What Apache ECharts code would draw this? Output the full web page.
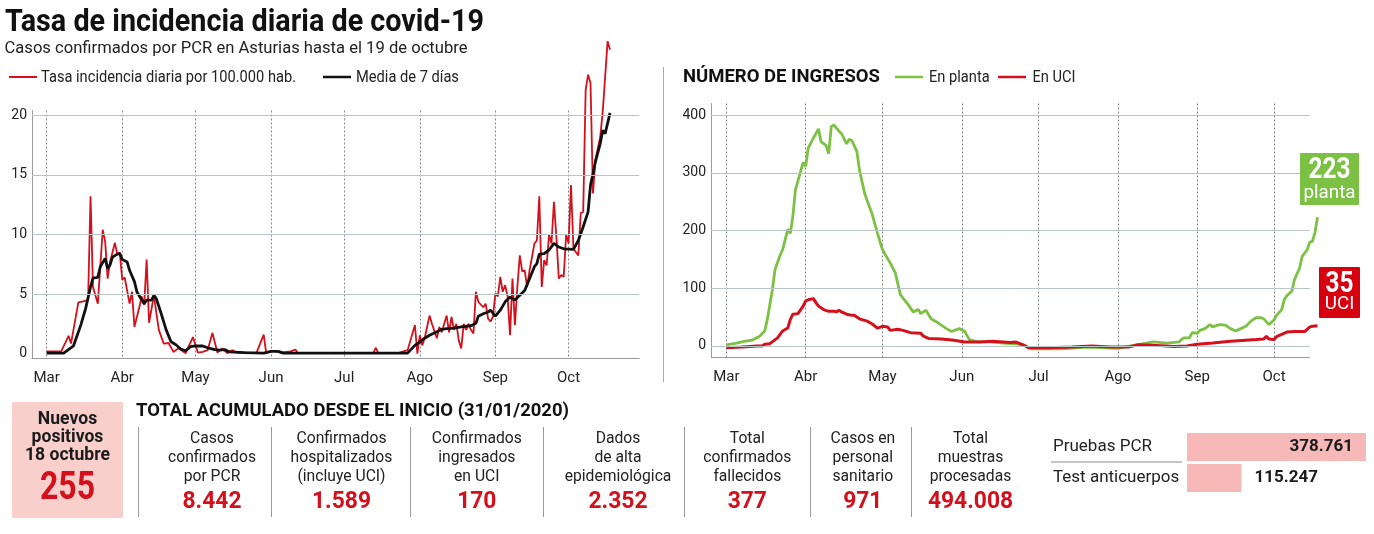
<!DOCTYPE html>
<html><head><meta charset="utf-8">
<script src="https://cdn.jsdelivr.net/npm/echarts@6/dist/echarts.min.js"></script>
<style>html,body{margin:0;padding:0;background:#fff}#c{width:1374px;height:534px}</style>
</head><body><div id="c"></div>
<script>
// ---------- DATA ----------
const monthNames = {3:'Mar',4:'Abr',5:'May',6:'Jun',7:'Jul',8:'Ago',9:'Sep',10:'Oct'};
const leftYTicks = [0,5,10,15,20];
const rightYTicks = [0,100,200,300,400];

// Tasa incidencia diaria por 100.000 hab. [día, valor]
const incidenciaDiaria = [
['3-1',0.2],['3-7',0.2],['3-10',1.5],['3-11',0.85],['3-14',4.3],['3-16',4.4],['3-18',4.5],['3-19',13.2],['3-20',5.6],['3-22',4.2],['3-24',10.4],['3-25',9.4],['3-26',6.3],['3-27',7.7],['3-29',9.3],['3-30',8.3],['3-31',8.5],
['4-1',6.2],['4-2',6.4],['4-4',4.2],['4-5',5.2],['4-6',2.25],['4-8',3.9],['4-9',4.8],['4-10',4.1],['4-11',7.9],['4-12',2.6],['4-14',4.9],['4-15',3.4],['4-16',2.0],['4-18',0.85],['4-20',0.9],['4-22',0.15],['4-24',0.45],['4-27',0.05],['4-30',1.4],
['5-2',0.1],['5-4',0.15],['5-6',0.3],['5-8',1.75],['5-10',0.1],['5-12',0.45],['5-14',0.05],['5-16',0.3],['5-18',0.1],['5-22',0.1],['5-26',0.05],['5-29',1.6],['5-30',0.1],
['6-2',0.25],['6-5',0.1],['6-9',0.2],['6-11',0.35],['6-12',0.05],['6-20',0.05],
['7-1',0.05],['7-13',0.1],['7-14',0.5],['7-15',0.05],['7-23',0.05],['7-27',0.3],['7-30',2.4],['7-31',0],
['8-1',1.55],['8-2',0.7],['8-3',1.3],['8-5',3.2],['8-6',2.5],['8-8',1.3],['8-9',2.25],['8-10',1.8],['8-12',3.2],['8-13',1.8],['8-14',3.1],['8-15',2.0],['8-16',2.5],['8-17',1.1],['8-18',0.45],['8-19',2.5],['8-20',2.0],['8-21',2.5],['8-22',2.0],['8-23',1.7],['8-24',5.2],['8-25',4.35],['8-27',3.9],['8-28',4.2],['8-29',2.95],['8-30',2.7],['8-31',3.1],
['9-1',5.05],['9-2',4.8],['9-3',6.45],['9-4',5.2],['9-5',5.75],['9-6',4.8],['9-7',1.55],['9-8',6.3],['9-9',2.4],['9-10',5.6],['9-11',8.25],['9-12',6.9],['9-13',7.0],['9-14',5.6],['9-15',7.0],['9-16',8.1],['9-17',9.25],['9-18',9.5],['9-19',13.2],['9-20',5.6],['9-21',7.85],['9-22',7.4],['9-23',10.0],['9-24',9.25],['9-25',12.75],['9-26',9.8],['9-27',6.3],['9-28',6.6],['9-29',6.45],['9-30',10.0],
['10-1',9.25],['10-2',14.15],['10-3',8.8],['10-5',8.25],['10-6',11.8],['10-7',11.9],['10-8',22.1],['10-9',23.4],['10-10',22.7],['10-11',13.45],['10-12',16.25],['10-14',18.2],['10-15',20.3],['10-17',26.2],['10-18',25.5]
];

// Media de 7 días
const media7 = [
['3-1',0.05],['3-8',0.05],['3-12',0.65],['3-15',2.4],['3-17',3.8],['3-19',5.6],['3-20',6.35],['3-22',6.4],['3-23',7.3],['3-25',8.0],['3-26',7.15],['3-27',7.45],['3-28',8.1],['3-30',8.35],['3-31',8.4],
['4-1',7.9],['4-3',7.7],['4-4',7.0],['4-6',6.05],['4-7',5.2],['4-9',4.5],['4-10',4.2],['4-11',4.5],['4-13',4.5],['4-14',4.9],['4-15',4.6],['4-17',3.35],['4-19',2.0],['4-21',1.0],['4-23',0.75],['4-25',0.4],['4-27',0.25],['4-29',0.6],
['5-1',0.65],['5-4',0.65],['5-6',0.5],['5-9',0.35],['5-11',0.3],['5-13',0.35],['5-15',0.15],['5-21',0.1],['5-29',0.05],
['6-1',0.2],['6-4',0.2],['6-6',0.05],['6-20',0.05],['7-10',0.05],['7-23',0.05],['7-27',0.05],['7-30',0.7],
['8-1',1.0],['8-3',1.3],['8-5',1.55],['8-8',1.85],['8-10',2.05],['8-12',2.1],['8-15',2.15],['8-18',2.25],['8-22',2.35],['8-24',2.55],['8-25',3.15],['8-27',3.35],['8-29',3.5],['8-30',3.65],
['9-1',3.15],['9-3',3.65],['9-5',4.35],['9-7',4.75],['9-9',4.5],['9-11',4.9],['9-13',5.3],['9-15',6.3],['9-17',7.3],['9-18',7.55],['9-19',8.35],['9-21',8.4],['9-23',8.7],['9-25',9.25],['9-27',8.95],['9-29',8.8],
['10-3',8.75],['10-5',9.5],['10-7',10.65],['10-9',11.9],['10-10',14.15],['10-11',15.1],['10-12',16.1],['10-14',17.65],['10-15',18.75],['10-16',18.45],['10-18',20.2]
];

// Número de ingresos: en planta
const enPlanta = [
['3-1',2],['3-5',5],['3-8',8],['3-11',10],['3-14',17],['3-16',26],['3-17',46],['3-19',98],['3-20',132],['3-22',157],['3-23',167],['3-25',202],['3-26',195],['3-27',225],['3-28',271],['3-30',302],['3-31',318],
['4-1',311],['4-2',343],['4-4',360],['4-6',376],['4-7',354],['4-9',347],['4-10',333],['4-11',380],['4-12',383],['4-14',372],['4-15',368],['4-17',350],['4-18',358],['4-19',356],['4-21',337],['4-22',305],['4-24',265],['4-25',252],['4-27',228],['4-29',196],
['5-1',167],['5-2',159],['5-4',144],['5-6',127],['5-8',89],['5-9',83],['5-11',72],['5-13',59],['5-15',63],['5-16',56],['5-18',62],['5-20',47],['5-22',42],['5-24',36],['5-26',30],['5-28',25],['5-31',30],
['6-2',26],['6-4',11],['6-7',7],['6-12',7],['6-17',5],['6-23',3],['6-26',0],['6-28',-5],['7-10',-5],['7-20',-2],['8-1',-4],['8-6',0],
['8-10',3],['8-15',7],['8-20',5],['8-25',7],['8-26',12],['8-27',14],['8-29',14],['8-30',23],
['9-1',22],['9-2',27],['9-4',30],['9-6',37],['9-7',33],['9-9',36],['9-10',37],['9-12',36],['9-14',30],['9-16',26],['9-18',30],['9-20',34],['9-22',43],['9-24',49],['9-26',49],['9-27',47],['9-29',37],
['10-1',45],['10-2',53],['10-4',63],['10-5',80],['10-6',87],['10-8',95],['10-9',115],['10-11',135],['10-12',155],['10-14',167],['10-15',180],['10-16',181],['10-17',196],['10-18',223]
];

// Número de ingresos: en UCI
const enUCI = [
['3-1',-3],['3-7',-2],['3-13',0],['3-15',0],['3-16',3],['3-18',4],['3-21',14],['3-23',26],['3-25',31],['3-26',46],['3-27',55],['3-29',56],['3-31',69],
['4-1',78],['4-2',80],['4-4',82],['4-5',75],['4-6',69],['4-8',63],['4-10',60],['4-12',60],['4-13',59],['4-14',62],['4-15',59],['4-17',55],['4-19',53],['4-20',53],['4-22',47],['4-25',43],['4-27',38],['4-29',31],
['5-1',34],['5-3',33],['5-4',27],['5-7',29],['5-9',27],['5-12',23],['5-16',22],['5-17',17],['5-19',13],['5-24',12],['5-29',10],
['6-2',7],['6-8',7],['6-13',8],['6-20',6],['6-22',7],['6-25',2],['6-27',-3],['7-5',-3],['7-14',-2],['7-22',0],['7-29',-2],['8-5',-2],['8-9',2],['8-16',1],['8-23',-1],['8-28',0],
['9-1',3],['9-7',5],['9-14',8],['9-20',10],['9-24',11],['9-27',12],['9-28',17],['9-29',12],
['10-1',11],['10-2',16],['10-4',20],['10-6',24],['10-9',25],['10-13',25],['10-15',33],['10-16',34],['10-18',35]
];

const ultimoPlanta = 223;
const ultimoUCI = 35;
const nuevosPositivos = 255;
const totalLabels = [
  ['Casos','confirmados','por PCR'],
  ['Confirmados','hospitalizados','(incluye UCI)'],
  ['Confirmados','ingresados','en UCI'],
  ['Dados','de alta','epidemiológica'],
  ['Total','confirmados','fallecidos'],
  ['Casos en','personal','sanitario'],
  ['Total','muestras','procesadas']
];
const totalValues = [8442, 1589, 170, 2352, 377, 971, 494008];
const pruebasCats = ['Pruebas PCR', 'Test anticuerpos'];
const pruebasValues = [378761, 115247];

// ---------- HELPERS ----------
function dayCats(m0, d0, m1, d1) {
  const out = []; let t = Date.UTC(2020, m0 - 1, d0); const end = Date.UTC(2020, m1 - 1, d1);
  while (t <= end) { const dt = new Date(t); out.push((dt.getUTCMonth() + 1) + '-' + dt.getUTCDate()); t += 86400000; }
  return out;
}
const catsL = dayCats(2, 24, 10, 30);
const catsR = dayCats(2, 24, 10, 18);
const isMonthStart = (i, v) => String(v).split('-')[1] === '1';
const monthLabel = v => monthNames[+String(v).split('-')[0]] || '';
const fmt = v => String(v).replace(/\B(?=(\d{3})+(?!\d))/g, '.');
const FF = 'Roboto';
const mctx = document.createElement('canvas').getContext('2d');
function tw(s, size, weight) { mctx.font = (weight || 'normal') + ' ' + size + 'px ' + FF; return mctx.measureText(s).width; }
function fit(s, size, weight, target) { return target / tw(s, size, weight); }
function txt(s, x, y, o) {
  return { type: 'text', x: x, y: y, scaleX: o.sx || 1, silent: true, z: 10,
    style: { text: s, x: 0, y: 0, textAlign: o.align || 'left', textVerticalAlign: 'middle',
      fontSize: o.size, fontWeight: o.weight || 'normal', fontFamily: FF, fill: o.color || '#222' } };
}
function ln(x1, y1, x2, y2, color, w) { return { type: 'line', silent: true, z: 10, shape: { x1, y1, x2, y2 }, style: { stroke: color, lineWidth: w || 1 } }; }
function rect(x, y, w, h, color) { return { type: 'rect', silent: true, z: 9, shape: { x, y, width: w, height: h, r: 1 }, style: { fill: color } }; }

const RED = '#d3101b', GREEN = '#7cc143', GRID = '#b9c4c7', AXIS = '#9b9b9b', DASH = '#858585';

// ---------- GRAPHIC ----------
const g = [];
const title = 'Tasa de incidencia diaria de covid-19';
g.push(txt(title, 5, 23, { size: 31, weight: 'bold', color: '#111', sx: fit(title, 31, 'bold', 479) }));
const sub = 'Casos confirmados por PCR en Asturias hasta el 19 de octubre';
g.push(txt(sub, 4.5, 49, { size: 17, color: '#222', sx: fit(sub, 17, 'normal', 463) }));
const lg1 = 'Tasa incidencia diaria por 100.000 hab.', lg2 = 'Media de 7 días';
const lgS = fit(lg1, 16, 'normal', 255);
g.push(ln(9, 77, 37, 77, RED, 2));
g.push(txt(lg1, 41, 77.5, { size: 16, sx: lgS }));
g.push(ln(323, 77, 351, 77, '#111', 2.5));
g.push(txt(lg2, 356, 77.5, { size: 16, sx: lgS }));
// right header
const hdr = 'NÚMERO DE INGRESOS';
g.push(txt(hdr, 683, 77.5, { size: 18, weight: 'bold', color: '#111', sx: fit(hdr, 18, 'bold', 197) }));
g.push(ln(895, 77, 923, 77, GREEN, 2.5));
g.push(txt('En planta', 929, 77.5, { size: 16, sx: lgS }));
g.push(ln(998, 77, 1026, 77, RED, 2.5));
g.push(txt('En UCI', 1032.5, 77.5, { size: 16, sx: lgS }));
// divider
g.push(ln(663.5, 67, 663.5, 382, '#aaaaaa', 1));
// end boxes
const numS = fit(String(ultimoPlanta), 30, 'bold', 42);
const wS = fit('planta', 18, 'normal', 52);
g.push(rect(1300, 153, 59, 52, GREEN));
g.push(txt(String(ultimoPlanta), 1329.5, 170, { size: 30, weight: 'bold', color: '#fff', align: 'center', sx: numS }));
g.push(txt('planta', 1329.5, 193, { size: 18, color: '#fff', align: 'center', sx: wS }));
g.push(rect(1319, 267, 41, 51, '#d7000f'));
g.push(txt(String(ultimoUCI), 1339.5, 284, { size: 30, weight: 'bold', color: '#fff', align: 'center', sx: numS }));
g.push(txt('UCI', 1339.5, 304.5, { size: 18, color: '#fff', align: 'center', sx: wS }));
// bottom left box
g.push(rect(12, 402, 111, 116, '#f8cfcb'));
const nvS = fit('18 octubre', 18, 'bold', 85);
g.push(txt('Nuevos', 67.5, 419.5, { size: 18, weight: 'bold', color: '#1a1a1a', align: 'center', sx: nvS }));
g.push(txt('positivos', 67.5, 437.5, { size: 18, weight: 'bold', color: '#1a1a1a', align: 'center', sx: nvS }));
g.push(txt('18 octubre', 67.5, 455.5, { size: 18, weight: 'bold', color: '#1a1a1a', align: 'center', sx: nvS }));
g.push(txt(String(nuevosPositivos), 67.5, 489.5, { size: 38, weight: 'bold', color: RED, align: 'center', sx: fit(String(nuevosPositivos), 38, 'bold', 55) }));
const th = 'TOTAL ACUMULADO DESDE EL INICIO (31/01/2020)';
g.push(txt(th, 136, 411.5, { size: 18, weight: 'bold', color: '#111', sx: fit(th, 18, 'bold', 433) }));
const seps = [138.5, 271.5, 410.5, 543.5, 684.5, 810.5, 911.5];
seps.forEach(x => g.push(ln(x, 427, x, 517, '#9a9a9a', 1)));
const colC = [212, 341.5, 476.8, 618, 747.3, 862.8, 970.5];
const labS = fit('confirmados', 17, 'normal', 88);
const valS = fit('8.442', 24, 'bold', 59);
const rowY = [438.8, 457.5, 476.5];
totalLabels.forEach((lines, i) => {
  lines.forEach((s, j) => g.push(txt(s, colC[i], rowY[j], { size: 17, color: '#222', align: 'center', sx: labS })));
  g.push(txt(fmt(totalValues[i]), colC[i], 502, { size: 24, weight: 'bold', color: RED, align: 'center', sx: valS }));
});
g.push(ln(1051, 462, 1182, 462, '#8a8a8a', 1));

// ---------- CHART ----------
const chart = echarts.init(document.getElementById('c'), null, { renderer: 'canvas' });
const xAxisCommon = (cats, gi, showLine) => ({
  type: 'category', gridIndex: gi, data: cats, boundaryGap: false,
  axisLine: { show: showLine, onZero: false, lineStyle: { color: AXIS, width: 1 } },
  axisTick: { show: false },
  axisLabel: { interval: isMonthStart, formatter: monthLabel, fontSize: 15, color: '#222', fontFamily: FF, margin: 12 },
  splitLine: { show: true, interval: isMonthStart, lineStyle: { color: DASH, type: [2, 2], width: 1 } }
});
const idxEndR = catsR.indexOf('10-15');

chart.setOption({
  animation: false,
  textStyle: { fontFamily: FF },
  graphic: { elements: g },
  grid: [
    { left: 32, top: 110.5, width: 607.3, height: 248 },
    { left: 711, top: 103.5, width: 606.5, height: 254 },
    { left: 1187, top: 431.5, width: 179, height: 62 }
  ],
  xAxis: [
    xAxisCommon(catsL, 0, true),
    xAxisCommon(catsR, 1, false),
    { type: 'value', gridIndex: 2, min: 0, max: 'dataMax', show: false }
  ],
  yAxis: [
    { type: 'value', gridIndex: 0, min: -0.4, max: 20.4, interval: 0.2,
      axisLine: { show: true, lineStyle: { color: AXIS } }, axisTick: { show: false }, splitLine: { show: false },
      axisLabel: { fontSize: 14, color: '#222', margin: 5, fontFamily: FF,
        formatter: v => { const r = Math.round(v); return (Math.abs(v - r) < 1e-6 && leftYTicks.indexOf(r) >= 0) ? String(r) : ''; } } },
    { type: 'value', gridIndex: 1, min: -20, max: 420, interval: 20,
      axisLine: { show: true, lineStyle: { color: AXIS } }, axisTick: { show: false }, splitLine: { show: false },
      axisLabel: { fontSize: 14, color: '#222', margin: 5, fontFamily: FF,
        formatter: v => { const r = Math.round(v); return rightYTicks.indexOf(r) >= 0 ? String(r) : ''; } } },
    { type: 'category', gridIndex: 2, data: pruebasCats, inverse: true,
      axisLine: { show: false }, axisTick: { show: false },
      axisLabel: { align: 'left', margin: 134, fontSize: 17, color: '#222', fontFamily: FF } }
  ],
  series: [
    { type: 'line', xAxisIndex: 0, yAxisIndex: 0, data: [], z: 1, silent: true,
      markLine: { symbol: ['none', 'none'], silent: true, label: { show: false },
        lineStyle: { color: GRID, width: 1, type: 'solid' },
        data: leftYTicks.filter(v => v > 0).map(v => ({ yAxis: v })) } },
    { name: 'Tasa incidencia diaria por 100.000 hab.', type: 'line', xAxisIndex: 0, yAxisIndex: 0, data: incidenciaDiaria,
      showSymbol: false, clip: false, z: 3, lineStyle: { color: RED, width: 1.8 }, itemStyle: { color: RED } },
    { name: 'Media de 7 días', type: 'line', xAxisIndex: 0, yAxisIndex: 0, data: media7,
      showSymbol: false, clip: false, z: 4, lineStyle: { color: '#111', width: 2.8 }, itemStyle: { color: '#111' } },
    { type: 'line', xAxisIndex: 1, yAxisIndex: 1, data: [], z: 1, silent: true,
      markLine: { symbol: ['none', 'none'], silent: true, label: { show: false },
        lineStyle: { color: GRID, width: 1, type: 'solid' },
        data: rightYTicks.map(v => [{ coord: [0, v] }, { coord: [idxEndR, v] }])
          .concat([[{ coord: [0, -20], lineStyle: { color: AXIS, width: 1, type: 'solid' } }, { coord: [idxEndR, -20] }]]) } },
    { name: 'En planta', type: 'line', xAxisIndex: 1, yAxisIndex: 1, data: enPlanta,
      showSymbol: false, clip: false, z: 3, lineStyle: { color: GREEN, width: 2.8 }, itemStyle: { color: GREEN } },
    { name: 'En UCI', type: 'line', xAxisIndex: 1, yAxisIndex: 1, data: enUCI,
      showSymbol: false, clip: false, z: 4, lineStyle: { color: RED, width: 3 }, itemStyle: { color: RED } },
    { type: 'bar', xAxisIndex: 2, yAxisIndex: 2, barWidth: 28, silent: true,
      itemStyle: { color: '#f6b9b8' },
      label: { show: true, fontSize: 17, fontWeight: 'bold', color: '#1a1a1a', fontFamily: FF, formatter: p => fmt(p.value) },
      data: [
        { value: pruebasValues[0], label: { position: 'insideRight', distance: 13 } },
        { value: pruebasValues[1], label: { position: 'right', distance: 13 } }
      ] }
  ]
});
</script></body></html>
